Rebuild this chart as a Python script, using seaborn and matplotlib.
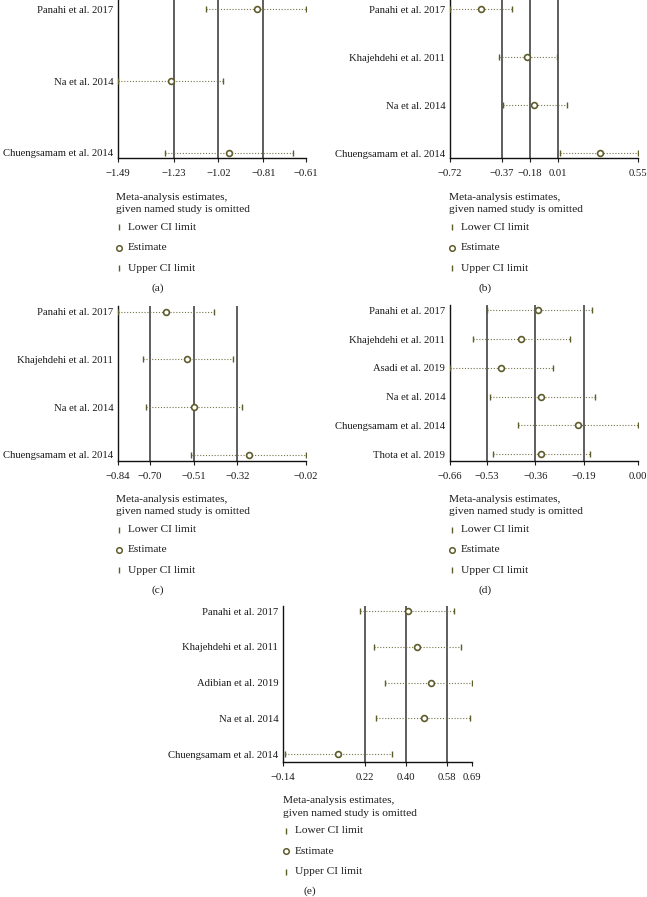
import numpy as np
import matplotlib
matplotlib.use("Agg")
import matplotlib.pyplot as plt
import seaborn as sns
from matplotlib.lines import Line2D

# ----------------------------------------------------------
# Data
# ----------------------------------------------------------

a_studies = ["Panahi et al. 2017", "Na et al. 2014", "Chuengsamam et al. 2014"]
a_est = [-0.84, -1.24, -0.97]
a_low = [-1.08, -1.49, -1.27]
a_up = [-0.61, -1.00, -0.67]
a_ticks = [-1.49, -1.23, -1.02, -0.81, -0.61]
a_ref = [-1.23, -1.02, -0.81]

b_studies = ["Panahi et al. 2017", "Khajehdehi et al. 2011", "Na et al. 2014",
             "Chuengsamam et al. 2014"]
b_est = [-0.51, -0.20, -0.15, 0.29]
b_low = [-0.72, -0.39, -0.36, 0.02]
b_up = [-0.30, 0.00, 0.07, 0.55]
b_ticks = [-0.72, -0.37, -0.18, 0.01, 0.55]
b_ref = [-0.37, -0.18, 0.01]

c_studies = ["Panahi et al. 2017", "Khajehdehi et al. 2011", "Na et al. 2014",
             "Chuengsamam et al. 2014"]
c_est = [-0.63, -0.54, -0.51, -0.27]
c_low = [-0.84, -0.73, -0.72, -0.52]
c_up = [-0.42, -0.34, -0.30, -0.02]
c_ticks = [-0.84, -0.70, -0.51, -0.32, -0.02]
c_ref = [-0.70, -0.51, -0.32]

d_studies = ["Panahi et al. 2017", "Khajehdehi et al. 2011", "Asadi et al. 2019",
             "Na et al. 2014", "Chuengsamam et al. 2014", "Thota et al. 2019"]
d_est = [-0.35, -0.41, -0.48, -0.34, -0.21, -0.34]
d_low = [-0.53, -0.58, -0.66, -0.52, -0.42, -0.51]
d_up = [-0.16, -0.24, -0.30, -0.15, 0.00, -0.17]
d_ticks = [-0.66, -0.53, -0.36, -0.19, 0.00]
d_ref = [-0.53, -0.36, -0.19]

e_studies = ["Panahi et al. 2017", "Khajehdehi et al. 2011", "Adibian et al. 2019",
             "Na et al. 2014", "Chuengsamam et al. 2014"]
e_est = [0.41, 0.45, 0.51, 0.48, 0.10]
e_low = [0.20, 0.26, 0.31, 0.27, -0.13]
e_up = [0.61, 0.64, 0.69, 0.68, 0.34]
e_ticks = [-0.14, 0.22, 0.40, 0.58, 0.69]
e_ref = [0.22, 0.40, 0.58]

legend_title = "Meta-analysis estimates,\ngiven named study is omitted"
legend_items = ["Lower CI limit", "Estimate", "Upper CI limit"]

# ----------------------------------------------------------
# Style
# ----------------------------------------------------------

sns.set_style("ticks")
plt.rcParams["font.family"] = ["Liberation Serif", "DejaVu Serif"]

W, H = 647, 897
TEXT = "#1c1a1b"
OLIVE = "#5f5c2c"
DOT = "#77744a"
REF = "#333333"
FS = 7.7
FS_LEG = 8.2


def rect(x0, y0, x1, y1):
    return [x0 / W, 1 - y1 / H, (x1 - x0) / W, (y1 - y0) / H]


fig = plt.figure(figsize=(W / 100, H / 100), dpi=100)
fig.patch.set_facecolor("white")


def forest(box, studies, est, low, up, ticks, ref, pad_top, pad_bot):
    ax = fig.add_axes(rect(*box))
    n = len(studies)
    ypos = np.arange(n)

    for r in ref:
        ax.axvline(r, color=REF, lw=1.1, zorder=1)

    ax.hlines(ypos, low, up, colors=DOT, lw=0.8, linestyles=(0, (1, 1.6)), zorder=2)
    sns.scatterplot(x=low, y=ypos, marker="|", s=18, color=OLIVE,
                    linewidth=1.0, ax=ax, zorder=3)
    sns.scatterplot(x=up, y=ypos, marker="|", s=18, color=OLIVE,
                    linewidth=1.0, ax=ax, zorder=3)
    ax.plot(est, ypos, ls="none", marker="o", ms=4.2, mfc="white",
            mec=OLIVE, mew=1.2, zorder=4)

    ax.set_xlim(ticks[0], ticks[-1])
    ax.set_ylim(n - 1 + pad_bot, -pad_top)
    ax.set_yticks(ypos)
    ax.set_yticklabels(studies, fontsize=FS, color=TEXT)
    ax.set_xticks(ticks)
    ax.set_xticklabels([f"{t:.2f}".replace("-", "\u2212") for t in ticks],
                       fontsize=FS, color=TEXT)
    ax.tick_params(axis="y", length=0, pad=3.5)
    ax.tick_params(axis="x", length=3, width=0.8, pad=5, direction="out",
                   color=TEXT)
    ax.set_xlabel("")
    ax.set_ylabel("")
    sns.despine(ax=ax)
    ax.spines["left"].set_color("#111111")
    ax.spines["bottom"].set_color("#111111")
    ax.spines["left"].set_linewidth(1.0)
    ax.spines["bottom"].set_linewidth(1.0)
    return ax


def legend(x, y, caption, cap_x):
    # title
    fig.text(x / W, 1 - y / H, legend_title, fontsize=FS_LEG, color=TEXT,
             va="top", ha="left", linespacing=1.5)
    marks = ["|", "o", "|"]
    for i, (lab, m) in enumerate(zip(legend_items, marks)):
        yy = y + 34.5 + i * 20.5
        kw = dict(ls="none", marker=m, color=OLIVE, transform=fig.transFigure)
        if m == "o":
            kw.update(ms=4.0, mfc="white", mec=OLIVE, mew=1.1)
        else:
            kw.update(ms=4.0, mew=1.0)
        fig.add_artist(Line2D([(x + 3) / W], [1 - yy / H], **kw))
        fig.text((x + 12) / W, 1 - yy / H, lab, fontsize=FS_LEG, color=TEXT,
                 va="center", ha="left")
    fig.text(cap_x / W, 1 - (y + 95) / H, caption, fontsize=FS_LEG, color=TEXT,
             va="center", ha="center")


# ----------------------------------------------------------
# Panels
# ----------------------------------------------------------

forest((118, 0, 306, 158), a_studies, a_est, a_low, a_up, a_ticks, a_ref, 0.13, 0.07)
legend(116, 193, "(a)", 158)

forest((450, 0, 638, 158), b_studies, b_est, b_low, b_up, b_ticks, b_ref, 0.19, 0.1)
legend(449, 193, "(b)", 485)

forest((118, 306, 306, 461), c_studies, c_est, c_low, c_up, c_ticks, c_ref, 0.12, 0.13)
legend(116, 495, "(c)", 158)

forest((450, 305, 638, 461), d_studies, d_est, d_low, d_up, d_ticks, d_ref, 0.19, 0.24)
legend(449, 495, "(d)", 485)

forest((283, 606, 472, 762), e_studies, e_est, e_low, e_up, e_ticks, e_ref, 0.14, 0.22)
legend(283, 796, "(e)", 310)

fig.savefig("out.png", dpi=100, facecolor="white")
